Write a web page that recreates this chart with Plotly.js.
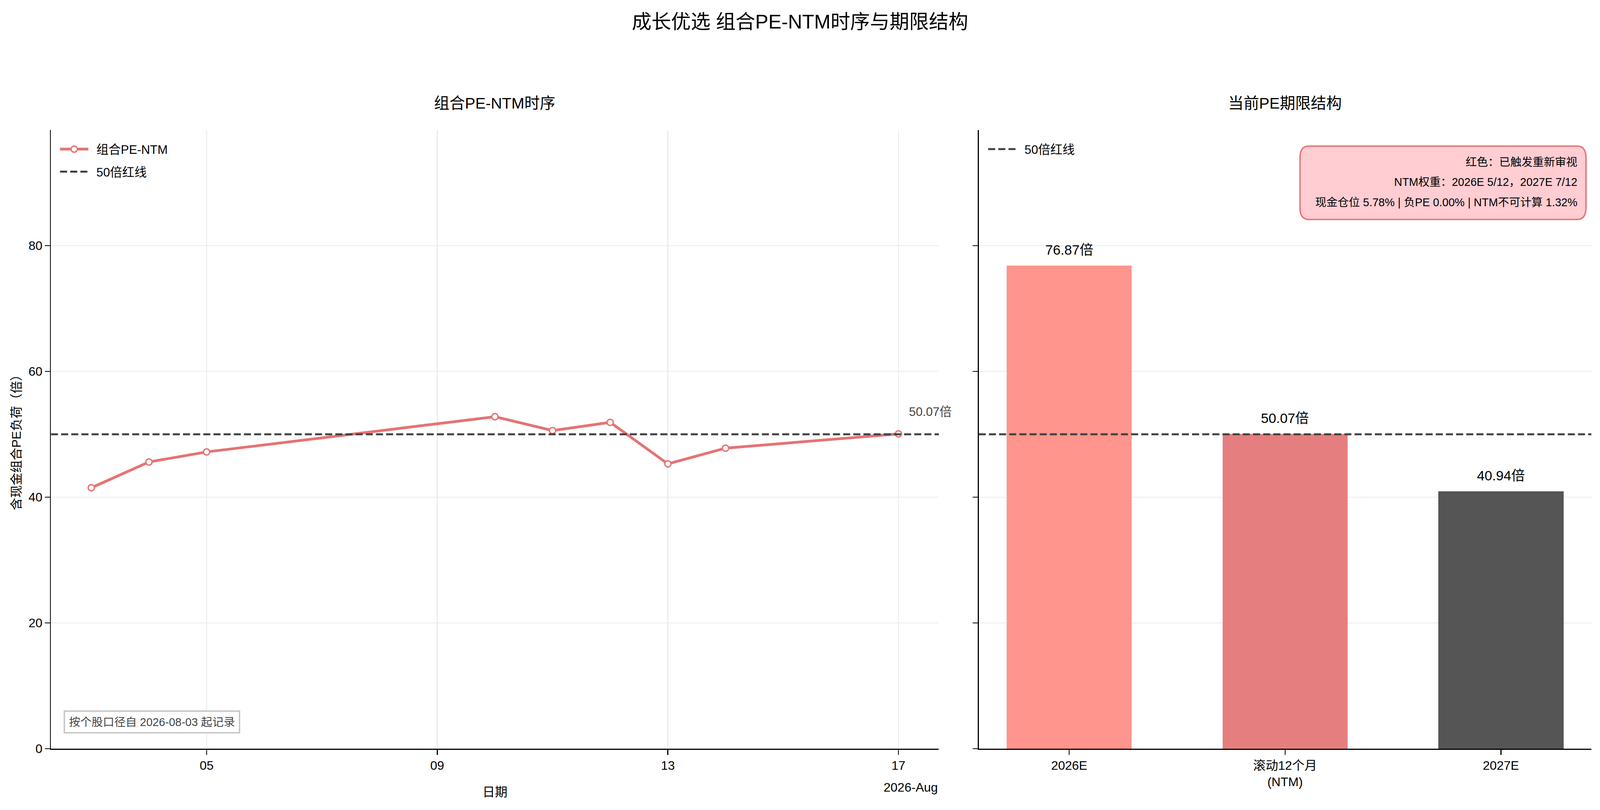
<!DOCTYPE html>
<html>
<head>
<meta charset="utf-8">
<script src="https://cdn.plot.ly/plotly-3.0.1.min.js"></script>
<style>
  html, body { margin: 0; padding: 0; background: #fff; overflow: hidden; }
</style>
</head>
<body>
<div id="chart"></div>
<script>
// series: portfolio PE-NTM by date
var dates = ['2026-08-03', '2026-08-04', '2026-08-05', '2026-08-10', '2026-08-11',
             '2026-08-12', '2026-08-13', '2026-08-14', '2026-08-17'];
var peNtm = [41.5, 45.6, 47.2, 52.8, 50.6, 51.9, 45.3, 47.8, 50.07];

// current term structure
var termCats = ['2026E', '滚动12个月<br>(NTM)', '2027E'];
var termVals = [76.87, 50.07, 40.94];
var termColors = ['#ff958c', '#e57f7f', '#555555'];

var redLine = 50;
var dateTicks = ['2026-08-05', '2026-08-09', '2026-08-13', '2026-08-17'];
var dateTickText = ['05', '09', '13', '17'];

var boxLines = ['红色：已触发重新审视',
                'NTM权重：2026E 5/12，2027E 7/12',
                '现金仓位 5.78% | 负PE 0.00% | NTM不可计算 1.32%'];

var FONT = 'Liberation Sans, Arial, Noto Sans CJK SC, sans-serif';
// reference frame is 5370x2074; fit to whatever the window really is
var W = window.innerWidth || 5370, H = window.innerHeight || 2074;
var wS = W / 5370, hS = H / 2074;
var S = Math.min(wS, hS);
function px(x) { return x / 5370; }
function py(y) { return 1 - y / 2074; }
function s(v) { return v * S; }

var yMax = Math.max.apply(null, termVals) * 1.28;
var dashStyle = '18px,8px';

var traceLine = {
    x: dates,
    y: peNtm,
    type: 'scatter',
    mode: 'lines+markers',
    name: '\u2002组合PE-NTM',
    legendgroup: 'a',
    xaxis: 'x', yaxis: 'y',
    line: { color: '#e57373', width: 7 },
    marker: { size: 16, color: '#ffffff', line: { color: '#e57373', width: 3.5 } },
    legend: 'legend',
    cliponaxis: false
}
// legend entries for the 50x line (the line itself is a shape)
var traceRed1 = {
    x: [null], y: [null], type: 'scatter', mode: 'lines', name: '\u200250倍红线',
    legendgroup: 'b',
    xaxis: 'x', yaxis: 'y',
    line: { color: '#404040', width: 5, dash: dashStyle },
    legend: 'legend'
}
var traceRed2 = {
    x: [null], y: [null], type: 'scatter', mode: 'lines', name: '\u200250倍红线',
    xaxis: 'x2', yaxis: 'y2',
    line: { color: '#404040', width: 5, dash: dashStyle },
    legend: 'legend2'
}
var traceBars = {
    x: termCats,
    y: termVals,
    type: 'bar',
    xaxis: 'x2', yaxis: 'y2',
    width: 0.58,
    marker: { color: termColors },
    showlegend: false
}

var axisCommon = {
    showline: true, linecolor: '#000000', linewidth: 2.5,
    ticks: 'outside', ticklen: 13, tickwidth: 2.5, tickcolor: '#000000',
    tickfont: { size: s(42), color: '#000000', family: FONT },
    zeroline: false,
    gridcolor: '#ebebeb', gridwidth: 2.5
}

var annotations = [
    { text: '组合PE-NTM时序', xref: 'x domain', yref: 'paper', x: 0.5, y: py(264),
      xanchor: 'center', yanchor: 'middle', showarrow: false,
      font: { size: s(52), color: '#000000', family: FONT } },
    { text: '当前PE期限结构', xref: 'x2 domain', yref: 'paper', x: 0.5, y: py(264),
      xanchor: 'center', yanchor: 'middle', showarrow: false,
      font: { size: s(52), color: '#000000', family: FONT } },
    { text: '2026-Aug', xref: 'x domain', yref: 'paper', x: 1, y: py(2016),
      xanchor: 'right', yanchor: 'middle', showarrow: false,
      font: { size: s(42), color: '#000000', family: FONT } },
    { text: peNtm[peNtm.length - 1].toFixed(2) + '倍', xref: 'x', yref: 'y',
      x: dates[dates.length - 1], y: peNtm[peNtm.length - 1],
      xanchor: 'left', yanchor: 'middle', xshift: 32 * wS, yshift: 56 * hS, showarrow: false,
      font: { size: s(41), color: '#444444', family: FONT } },
    { text: '按个股口径自 2026-08-03 起记录', xref: 'paper', yref: 'paper',
      x: px(214), y: py(1878), xanchor: 'left', yanchor: 'bottom', showarrow: false,
      bgcolor: '#ffffff', bordercolor: '#c4c4c4', borderwidth: 3.5, borderpad: 10,
      font: { size: s(38), color: '#444444', family: FONT } }
];
// bar value labels
for (var i = 0; i < termCats.length; i++) {
    annotations.push({ text: termVals[i].toFixed(2) + '倍', xref: 'x2', yref: 'y2',
        x: termCats[i], y: termVals[i], xanchor: 'center', yanchor: 'middle',
        yshift: 40 * hS, showarrow: false,
        font: { size: s(46), color: '#000000', family: FONT } });
}
// status box lines, one per row
var boxRowsY = [415, 466, 518];
for (var i = 0; i < boxLines.length; i++) {
    annotations.push({ text: boxLines[i], xref: 'paper', yref: 'paper',
        x: px(5297), y: py(boxRowsY[i]), xanchor: 'right', yanchor: 'middle',
        showarrow: false, font: { size: s(37.5), color: '#000000', family: FONT } });
}

// rounded box behind the status text
function roundBox(x0, y0, x1, y1, r) {
    var rx = r / 5370, ry = r / 2074;
    var L = px(x0), R = px(x1), T = py(y0), B = py(y1);
    return 'M' + (L + rx) + ',' + T + ' L' + (R - rx) + ',' + T +
           ' Q' + R + ',' + T + ' ' + R + ',' + (T - ry) +
           ' L' + R + ',' + (B + ry) + ' Q' + R + ',' + B + ' ' + (R - rx) + ',' + B +
           ' L' + (L + rx) + ',' + B + ' Q' + L + ',' + B + ' ' + L + ',' + (B + ry) +
           ' L' + L + ',' + (T - ry) + ' Q' + L + ',' + T + ' ' + (L + rx) + ',' + T + ' Z';
}

var layout = {
    width: W, height: H,
    margin: { l: 0, r: 0, t: 0, b: 0 },
    paper_bgcolor: '#ffffff', plot_bgcolor: 'rgba(0,0,0,0)',
    font: { family: FONT, color: '#000000' },
    title: { text: '成长优选 组合PE-NTM时序与期限结构', x: 0.5, xanchor: 'center',
             y: py(55), yanchor: 'middle', yref: 'container',
             font: { size: s(66), color: '#000000', family: FONT } },
    xaxis: Object.assign({}, axisCommon, {
        domain: [px(171), px(3151)],
        type: 'date',
        range: ['2026-08-02 07:12', '2026-08-17 16:48'],
        tickvals: dateTicks, ticktext: dateTickText,
        showgrid: true,
        title: { text: '日期', font: { size: s(42), family: FONT }, standoff: 40 }
    }),
    yaxis: Object.assign({}, axisCommon, {
        domain: [py(1917), py(333)],
        range: [0, yMax],
        tickvals: [0, 20, 40, 60, 80],
        showgrid: true,
        title: { text: '含现金组合PE负荷（倍）', font: { size: s(42), family: FONT }, standoff: 10 }
    }),
    xaxis2: Object.assign({}, axisCommon, {
        domain: [px(3285), px(5341)],
        anchor: 'y2',
        type: 'category',
        range: [-0.419, 2.419],
        showgrid: false
    }),
    yaxis2: Object.assign({}, axisCommon, {
        domain: [py(1917), py(333)],
        anchor: 'x2',
        range: [0, yMax],
        tickvals: [0, 20, 40, 60, 80],
        showticklabels: false,
        showgrid: true
    }),
    legend: {
        x: px(195), y: py(355), xanchor: 'left', yanchor: 'top',
        bgcolor: 'rgba(0,0,0,0)', borderwidth: 0,
        font: { size: s(41), color: '#000000', family: FONT },
        itemwidth: Math.max(30, s(95)), tracegroupgap: 14
    },
    legend2: {
        x: px(3310), y: py(355), xanchor: 'left', yanchor: 'top',
        bgcolor: 'rgba(0,0,0,0)', borderwidth: 0,
        font: { size: s(41), color: '#000000', family: FONT },
        itemwidth: Math.max(30, s(95))
    },
    shapes: [
        { type: 'line', xref: 'x domain', yref: 'y', x0: 0, x1: 1, y0: redLine, y1: redLine,
          line: { color: '#404040', width: 5, dash: dashStyle } },
        { type: 'line', xref: 'x2 domain', yref: 'y2', x0: 0, x1: 1, y0: redLine, y1: redLine,
          line: { color: '#404040', width: 5, dash: dashStyle } },
        { type: 'path', xref: 'paper', yref: 'paper', path: roundBox(4363, 374, 5323, 562, 30),
          fillcolor: '#ffcdd2', line: { color: '#e57373', width: 3.5 } }
    ],
    annotations: annotations,
    bargap: 0
}

Plotly.newPlot('chart', [traceBars, traceLine, traceRed1, traceRed2], layout, { staticPlot: true });
</script>
</body>
</html>
